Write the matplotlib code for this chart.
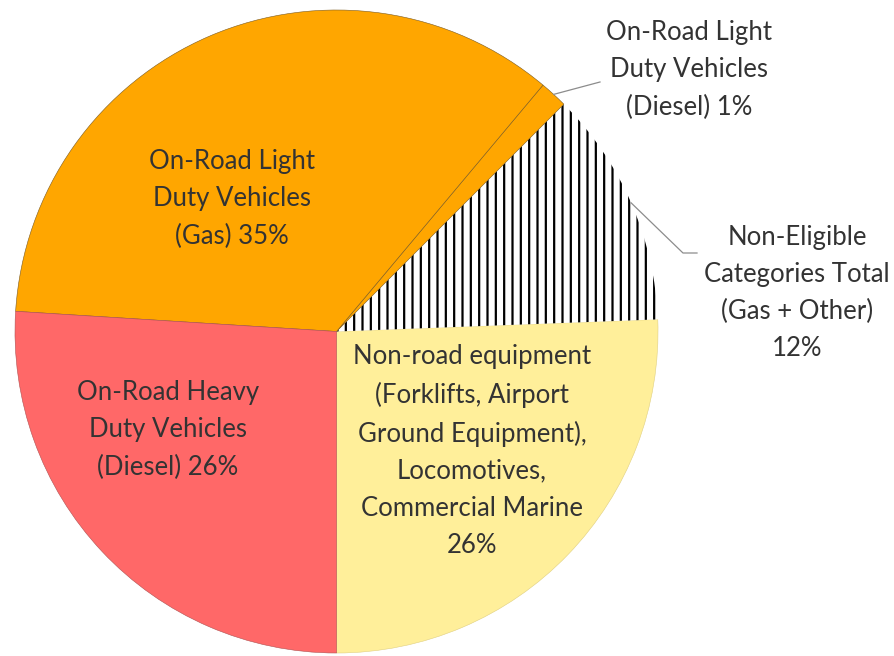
import matplotlib
matplotlib.use("Agg")
import matplotlib.pyplot as plt
import numpy as np

# Data (counter-clockwise from bottom)
categories = [
    "Non-road equipment\n(Forklifts, Airport\nGround Equipment),\nLocomotives,\nCommercial Marine\n26%",
    "Non-Eligible\nCategories Total\n(Gas + Other)\n12%",
    "On-Road Light\nDuty Vehicles\n(Diesel) 1%",
    "On-Road Light\nDuty Vehicles\n(Gas) 35%",
    "On-Road Heavy\nDuty Vehicles\n(Diesel) 26%",
]
values = [25.6, 11.9, 1.4, 35.1, 26.0]
colors = ["#FFEF9A", "white", "#FFA600", "#FFA600", "#FF6868"]
hatches = [None, "||", None, None, None]

plt.rcParams["font.family"] = ["Lato", "DejaVu Sans"]
plt.rcParams["hatch.linewidth"] = 1.6
plt.rcParams["hatch.color"] = "black"

fig = plt.figure(figsize=(8.94, 6.56), dpi=100)
W, H = 894, 656
cx, cy, R = 336.5, 331.5, 321.5
ax = fig.add_axes([(cx - R) / W, (H - cy - R) / H, 2 * R / W, 2 * R / H])

wedges, _ = ax.pie(values, colors=colors, startangle=270, counterclock=True,
                   radius=1, center=(0, 0),
                   wedgeprops=dict(edgecolor="#7a5a20", linewidth=0.4))
ax.set_xlim(-1, 1)
ax.set_ylim(-1, 1)
ax.set_aspect("auto")
ax.axis("off")
for w, h in zip(wedges, hatches):
    if h:
        w.set_hatch(h)
        w.set_edgecolor("black")
        w.set_linewidth(0)
wedges[0].set_edgecolor("#e0d080")
wedges[4].set_edgecolor("#b05050")


def d(px, py):
    return ((px - cx) / R, (cy - py) / R)

fs = 18.5
ls = 1.6
txtc = "#333333"
# Inside labels
for idx, (px, py) in [(0, (472, 451)), (3, (232, 199)), (4, (168, 430))]:
    x, y = d(px, py)
    ax.text(x, y, categories[idx], ha="center", va="center", fontsize=fs,
            linespacing=ls, color=txtc)

# Outside labels
x, y = d(689, 70)
ax.text(x, y, categories[2], ha="center", va="center", fontsize=fs,
        linespacing=ls, color=txtc, clip_on=False)
x, y = d(797, 293)
ax.text(x, y, categories[1], ha="center", va="center", fontsize=fs,
        linespacing=ls, color=txtc, clip_on=False)

# Leader lines from wedge mid-angles
def mid(w):
    a = np.deg2rad((w.theta1 + w.theta2) / 2)
    return np.cos(a), np.sin(a)

sx, sy = mid(wedges[2])
ex, ey = d(600, 82)
ax.plot([sx, ex], [sy, ey], color="#8c8c8c", lw=0.9, clip_on=False)
sx, sy = mid(wedges[1])
mx, my = d(683, 253)
ex, ey = d(697, 253)
ax.plot([sx, mx, ex], [sy, my, ey], color="#8c8c8c", lw=0.9, clip_on=False)

fig.savefig("out.png", dpi=100)
